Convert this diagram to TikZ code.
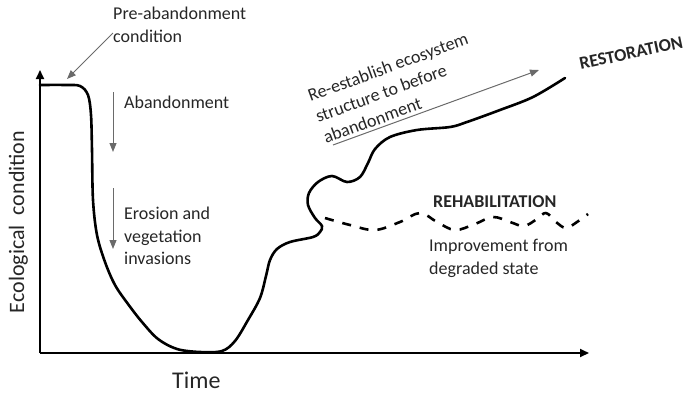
\documentclass[tikz,border=0pt]{standalone}
\usepackage{fontspec}
\setmainfont{Carlito}
\usetikzlibrary{arrows.meta,positioning}
\definecolor{labelink}{HTML}{262626}
\definecolor{notegray}{HTML}{6A6A6A}

\begin{document}
\begin{tikzpicture}[x=1pt,y=-1pt,font=\fontsize{18}{22.5}\selectfont,
    txt/.style={inner sep=0pt,text=labelink,align=left},
    boldtxt/.style={txt,font=\fontsize{18}{22.5}\selectfont\bfseries},
    axisline/.style={line width=2pt,-{Triangle[length=9pt,width=8pt]}},
    curveline/.style={line width=2.6pt,line cap=round,line join=round},
    notearrow/.style={draw=notegray,line width=1pt,-{Triangle[length=9pt,width=7pt]}}]
        \useasboundingbox (0,0) rectangle (686,394);

        % axes
        \coordinate (origin) at (40,353);
        \coordinate (ytop) at (40,70);
        \coordinate (xend) at (589,353);
        \draw[axisline] (origin) -- (ytop);
        \draw[axisline] (origin) -- (xend);
        \node[txt,rotate=90,anchor=base,font=\fontsize{22}{26}\selectfont] (ylab) at (24,222) {Ecological\ \ condition};
        \node[txt,anchor=base west,font=\fontsize{24}{28}\selectfont] (xlab) at (172,388) {Time};

        % degradation and restoration
        \draw[curveline] plot[smooth,tension=.55] coordinates {(40,85) (66,85) (80,86) (88,95) (91,115) (92,150)
            (93,200) (97,235) (105,262) (115,285) (128,304) (142,322) (158,339) (177,349) (200,352) (222,351)
            (235,341) (248,320) (260,298) (266,276) (270,260) (277,249) (290,242) (313,237) (320,232) (322,226)
            (315,218) (308,205) (309,193) (318,182) (332,176) (347,182) (360,177) (368,163) (375,149) (390,137)
            (417,130) (450,127) (467,122) (500,110) (533,97) (565,78)};

        % rehabilitation
        \draw[curveline,line cap=butt,dash pattern=on 9pt off 9pt] plot[smooth,tension=.6] coordinates {(325,218)
            (350,225) (375,230) (400,222) (420,213) (437,222) (455,230) (475,224) (493,217) (510,222) (524,226)
            (537,219) (546,213) (556,222) (566,228) (577,222) (588,214)};

        % labels
        \node[txt,anchor=north west] (pre) at (113,7) {Pre-abandonment\\condition};
        \coordinate (preend) at (67,79);
        \draw[notearrow] (pre.west |- 0,33) -- (preend);

        \node[txt,anchor=base west] (aband) at (124,108) {Abandonment};
        \coordinate (abandtop) at (113,92);
        \coordinate (abandbot) at (113,152);
        \draw[notearrow] (abandtop) -- (abandbot);

        \node[txt,anchor=north west] (erosion) at (124,207) {Erosion and\\vegetation\\invasions};
        \coordinate (erosiontop) at (113,188);
        \coordinate (erosionbot) at (113,249);
        \draw[notearrow] (erosiontop) -- (erosionbot);

        \node[txt,rotate=20,anchor=west] (reest) at (316,117) {Re-establish ecosystem\\structure to before\\abandonment};
        \coordinate (reeststart) at (333,145);
        \coordinate (reestend) at (539,70);
        \draw[notearrow] (reeststart) -- (reestend);

        \node[boldtxt,rotate=12] (restor) at (631,53) {RESTORATION};
        \node[boldtxt,anchor=base west] (rehab) at (433,207) {REHABILITATION};
        \node[txt,anchor=north west] (improve) at (429,239) {Improvement from\\degraded state};
      \end{tikzpicture}
\end{document}
